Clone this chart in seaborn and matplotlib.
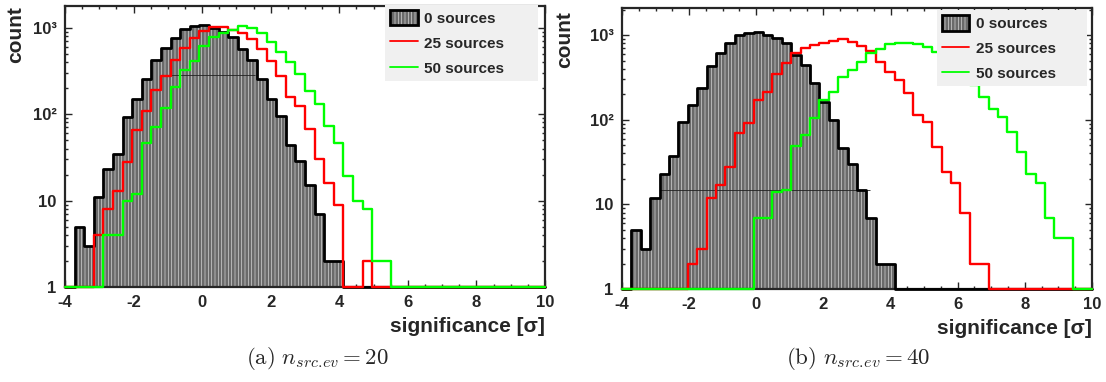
import numpy as np
import pandas as pd
import matplotlib
matplotlib.use('Agg')
import matplotlib.pyplot as plt
import seaborn as sns
from matplotlib.patches import Patch
from matplotlib.lines import Line2D
from matplotlib.legend_handler import HandlerTuple
from matplotlib.ticker import FixedLocator, MultipleLocator, LogLocator, NullFormatter

sns.set_style('ticks')
plt.rcParams['font.family'] = ['Liberation Sans', 'DejaVu Sans']
plt.rcParams['font.weight'] = 'bold'
plt.rcParams['axes.unicode_minus'] = False
plt.rcParams['mathtext.fontset'] = 'cm'
plt.rcParams['hatch.linewidth'] = 0.45

# binning of the significance histograms (50 bins from -4 to 10)
x_min, x_max, n_bins = -4, 10, 50

# counts per bin, panel (a): n_src.ev = 20
a_0src = [0, 5, 3, 11, 23, 35, 92, 148, 252, 422, 575, 763, 953, 1050, 1060, 1000, 890, 775,
          565, 425, 254, 151, 95, 44, 29, 15, 7, 2, 2] + [0] * 21
a_25src = [0, 0, 0, 4, 8, 13, 28, 65, 110, 190, 276, 420, 575, 750, 925, 1030, 1030, 950, 870,
           735, 570, 413, 275, 156, 123, 67, 30, 16, 9, 0, 0, 2] + [0] * 18
a_50src = [0, 0, 0, 0, 4, 4, 10, 12, 46, 70, 117, 204, 323, 415, 615, 777, 858, 950, 1050, 980,
           870, 675, 517, 403, 290, 187, 131, 72, 46, 19, 10, 8, 2, 2] + [0] * 16

# counts per bin, panel (b): n_src.ev = 40
b_0src = [0, 5, 3, 12, 23, 37, 94, 149, 235, 435, 610, 800, 1005, 1075, 1090, 1005, 918, 800,
          582, 443, 269, 163, 99, 46, 30, 15, 7, 2, 2] + [0] * 21
b_25src = [0] * 7 + [2, 3, 12, 17, 28, 69, 93, 171, 214, 353, 473, 615, 699, 765, 800, 853, 905,
                     838, 740, 650, 486, 370, 295, 205, 114, 95, 48, 24, 18, 8, 2, 2] + [0] * 11
b_50src = [0] * 14 + [7, 7, 14, 15, 49, 67, 104, 171, 214, 323, 387, 486, 609, 679, 778, 815, 800,
                      778, 731, 638, 560, 480, 380, 257, 187, 136, 107, 72, 42, 23, 18, 7, 4, 4, 0, 0]

# thin horizontal line inside the filled histogram: level, x from, x to
a_band = [280, -1.2, 1.55]
b_band = [15, -2.87, 3.4]

legend_labels = ['0 sources', '25 sources', '50 sources']
captions = [r'$\mathrm{(a)}\ n_{src.\!ev} = 20$', r'$\mathrm{(b)}\ n_{src.\!ev} = 40$']

edges = np.linspace(x_min, x_max, n_bins + 1)
centers = 0.5 * (edges[:-1] + edges[1:])

fill_gray = '#6a6a6a'
hatch_gray = '#e0e0e0'
red = '#ff0000'
green = '#00ff00'


def hist(ax, counts, **kws):
    # empty bins are drawn on the axis (y=1), like ROOT does on a log scale
    df = pd.DataFrame({'sig': centers, 'n': np.maximum(np.asarray(counts, float), 1)})
    sns.histplot(data=df, x='sig', weights='n', bins=n_bins, binrange=(x_min, x_max),
                 element='step', ax=ax, **kws)


def draw_panel(ax, bkg, sig25, sig50, band, ymax, leg_box):
    hist(ax, bkg, fill=True, color=fill_gray, alpha=1, linewidth=0)
    fill = ax.collections[-1]
    fill.set_edgecolor(hatch_gray)
    fill.set_hatch('|||||')
    fill.set_linewidth(0)

    ax.hlines(band[0], band[1], band[2], color='#222222', lw=0.6, zorder=2)

    for vals, col, lw in [(bkg, 'black', 2.0), (sig25, red, 1.7), (sig50, green, 1.7)]:
        hist(ax, vals, fill=False, color=col, linewidth=lw)
        ax.lines[-1].set_clip_on(False)
        ax.lines[-1].set_zorder(3)

    ax.set_yscale('log')
    ax.set_xlim(x_min, x_max)
    ax.set_ylim(1, ymax)

    ax.xaxis.set_major_locator(MultipleLocator(2))
    ax.xaxis.set_minor_locator(MultipleLocator(0.5))
    ax.yaxis.set_major_locator(FixedLocator([1, 10, 100, 1000]))
    ax.set_yticklabels(['1', '10', '10\u00b2', '10\u00b3'])
    ax.yaxis.set_minor_locator(LogLocator(base=10, subs=np.arange(2, 10)))
    ax.yaxis.set_minor_formatter(NullFormatter())
    ax.tick_params(which='both', direction='in', top=True, right=True, width=1.0)
    ax.tick_params(which='major', length=5, labelsize=12, pad=6)
    ax.tick_params(which='minor', length=2.5)
    for s in ax.spines.values():
        s.set_linewidth(1.6)
        s.set_zorder(2.5)

    ax.set_xlabel('significance [\u03c3]', fontsize=15, fontweight='bold')
    ax.xaxis.set_label_coords(1.0, -0.105)
    ax.xaxis.label.set_ha('right')
    ax.xaxis.label.set_va('top')
    ax.set_ylabel('count', fontsize=15, fontweight='bold')
    ax.yaxis.label.set_ha('right')

    handles = [(Patch(facecolor=fill_gray, edgecolor=hatch_gray, hatch='|||||', linewidth=0),
                Patch(facecolor='none', edgecolor='black', linewidth=2)),
               Line2D([], [], color=red, lw=1.3),
               Line2D([], [], color=green, lw=1.3)]
    leg = ax.legend(handles, legend_labels, handler_map={tuple: HandlerTuple(ndivide=1, pad=0)},
                    loc='upper left', bbox_to_anchor=leg_box, mode='expand', borderaxespad=0,
                    prop={'weight': 'bold', 'size': 11}, frameon=True,
                    fancybox=False, framealpha=1, facecolor='#f0f0f0', edgecolor='none',
                    handlelength=1.8, handleheight=1.2, handletextpad=0.45,
                    labelspacing=0.6, borderpad=0.32)
    leg.set_zorder(5)


fig = plt.figure(figsize=(11.06, 3.82), dpi=100)
ax_a = fig.add_axes([65 / 1106, 1 - 287 / 382, 480 / 1106, 281 / 382])
ax_b = fig.add_axes([622 / 1106, 1 - 289 / 382, 470 / 1106, 281 / 382])

draw_panel(ax_a, a_0src, a_25src, a_50src, a_band, 1780, (0.667, 0.744, 0.319, 0.26))
draw_panel(ax_b, b_0src, b_25src, b_50src, b_band, 2100, (0.670, 0.733, 0.319, 0.26))

ax_a.yaxis.set_label_coords(-0.083, 1.0)
ax_b.yaxis.set_label_coords(-0.102, 0.99)

fig.text(317 / 1106, 1 - 358 / 382, captions[0], ha='center', va='center', fontsize=16.5)
fig.text(858 / 1106, 1 - 358 / 382, captions[1], ha='center', va='center', fontsize=16.5)

fig.savefig('out.png', dpi=100, facecolor='white')
